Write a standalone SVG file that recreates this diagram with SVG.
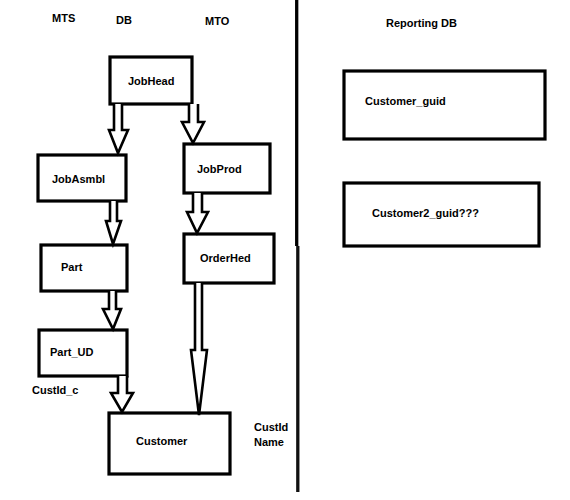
<svg xmlns="http://www.w3.org/2000/svg" width="570" height="500" viewBox="0 0 570 500">
<style>
.box{fill:#fff;stroke:#000;stroke-width:3.2}
.arr{fill:#fff;stroke:#000;stroke-width:2.6;stroke-linejoin:miter}
text{font-family:"Liberation Sans",Arial,sans-serif;font-weight:bold;font-size:11px;fill:#000}
</style>
<rect width="570" height="500" fill="#fff"/>
<g id="labels">
<text x="52" y="22">MTS</text>
<text x="116" y="24">DB</text>
<text x="205" y="25">MTO</text>
<text x="386" y="27">Reporting DB</text>
<text x="32" y="394">CustId_c</text>
<text x="254" y="431">CustId</text>
<text x="254" y="446">Name</text>
</g>
<g id="divider">
<line x1="296.7" y1="0" x2="296.7" y2="246" stroke="#000" stroke-width="3.3"/>
<line x1="297.8" y1="246" x2="297.8" y2="492" stroke="#111" stroke-width="3.3"/>
</g>
<g id="JobHead"><rect class="box" x="110" y="57" width="82" height="47"/><text x="128" y="85">JobHead</text></g>
<g id="JobAsmbl"><rect class="box" x="38" y="155" width="88" height="46"/><text x="52" y="183">JobAsmbl</text></g>
<g id="JobProd"><rect class="box" x="184" y="144" width="86" height="49"/><text x="197" y="173">JobProd</text></g>
<g id="Part"><rect class="box" x="41" y="245" width="86" height="46"/><text x="61" y="271">Part</text></g>
<g id="OrderHed"><rect class="box" x="184" y="234" width="90" height="49"/><text x="200" y="262">OrderHed</text></g>
<g id="Part_UD"><rect class="box" x="39" y="330" width="88" height="46"/><text x="50" y="356">Part_UD</text></g>
<g id="Customer"><rect class="box" x="109" y="413" width="121" height="61"/><text x="136" y="445">Customer</text></g>
<g id="Customer_guid"><rect class="box" x="344" y="71" width="201" height="68"/><text x="365" y="105">Customer_guid</text></g>
<g id="Customer2_guid"><rect class="box" x="344" y="183" width="195" height="63"/><text x="372" y="217">Customer2_guid???</text></g>
<g id="connectors">
<path class="arr" d="M114,104 V130 H109 L118,153 L128,130 H122 V104"/>
<path class="arr" d="M189,104 V122 H182 L193,143 L204,122 H198 V104"/>
<path class="arr" d="M110,201 V221 H106 L113,244 L121,221 H117 V201"/>
<path class="arr" d="M193,193 V212 H187 L197,233 L208,212 H202 V193"/>
<path class="arr" d="M109,291 V309 H103 L113,329 L121,309 H116 V291"/>
<path class="arr" d="M118,376 V393 H111 L122,412 L133,393 H127 V376"/>
<path class="arr" d="M195,283 V350 H191 L199,415 L207,350 H202 V283"/>
</g>
</svg>
